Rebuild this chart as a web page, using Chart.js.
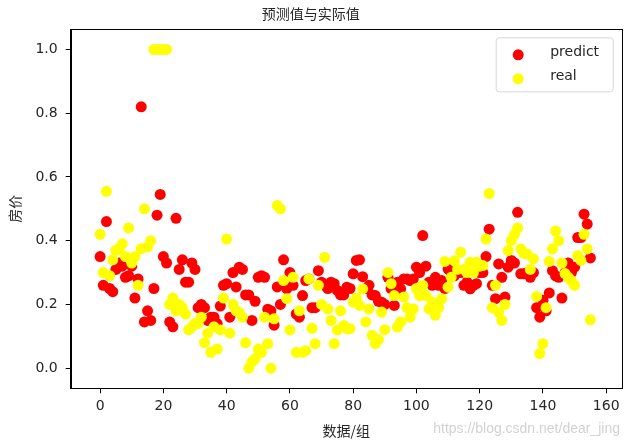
<!DOCTYPE html>
<html>
<head>
<meta charset="utf-8">
<script src="https://cdn.jsdelivr.net/npm/chart.js@4.4.1/dist/chart.umd.min.js"></script>
<style>
  body { margin: 0; background: #fff; }
</style>
</head>
<body>
<canvas id="scatter-chart" width="638" height="444"></canvas>
<script>
'use strict';

// values, index 0..155
const predict = [
  0.35, 0.26, 0.46, 0.25, 0.24, 0.31, 0.33, 0.32, 0.285, 0.29, 0.32, 0.22, 0.28, 0.82, 0.145, 0.18, 0.15, 0.25, 0.48, 0.545,
  0.35, 0.33, 0.145, 0.13, 0.47, 0.31, 0.34, 0.27, 0.27, 0.33, 0.31, 0.19, 0.20, 0.19, 0.15, 0.16, 0.16, 0.14, 0.195, 0.26,
  0.265, 0.16, 0.30, 0.255, 0.317, 0.31, 0.23, 0.23, 0.15, 0.21, 0.285, 0.29, 0.285, 0.185, 0.18, 0.135, 0.255, 0.20, 0.34, 0.25,
  0.30, 0.26, 0.17, 0.16, 0.228, 0.275, 0.28, 0.19, 0.19, 0.306, 0.27, 0.26, 0.25, 0.27, 0.265, 0.244, 0.23, 0.23, 0.254, 0.25,
  0.296, 0.338, 0.34, 0.287, 0.25, 0.26, 0.23, 0.228, 0.21, 0.207, 0.20, 0.285, 0.25, 0.197, 0.27, 0.249, 0.28, 0.28, 0.275, 0.28,
  0.317, 0.30, 0.416, 0.32, 0.27, 0.26, 0.285, 0.26, 0.275, 0.25, 0.311, 0.30, 0.29, 0.306, 0.30, 0.26, 0.27, 0.249, 0.26, 0.265,
  0.30, 0.30, 0.35, 0.436, 0.26, 0.218, 0.327, 0.285, 0.223, 0.317, 0.338, 0.33, 0.489, 0.296, 0.296, 0.30, 0.285, 0.30, 0.19, 0.16,
  0.213, 0.18, 0.236, 0.306, 0.29, 0.285, 0.22, 0.30, 0.33, 0.30, 0.317, 0.41, 0.41, 0.483, 0.452, 0.346
];
const real = [
  0.42, 0.30, 0.555, 0.29, 0.34, 0.37, 0.375, 0.39, 0.35, 0.44, 0.33, 0.35, 0.26, 0.375, 0.50, 0.38, 0.40, 1.0, 1.0, 1.0,
  1.0, 1.0, 0.20, 0.22, 0.18, 0.20, 0.19, 0.17, 0.12, 0.13, 0.14, 0.14, 0.16, 0.08, 0.11, 0.05, 0.13, 0.06, 0.12, 0.22,
  0.405, 0.11, 0.20, 0.18, 0.175, 0.16, 0.08, 0.0, 0.02, 0.03, 0.06, 0.05, 0.16, 0.077, 0.0, 0.155, 0.51, 0.50, 0.275, 0.218,
  0.12, 0.285, 0.05, 0.18, 0.05, 0.055, 0.28, 0.125, 0.077, 0.26, 0.20, 0.348, 0.186, 0.15, 0.077, 0.12, 0.18, 0.134, 0.124, 0.124,
  0.207, 0.22, 0.197, 0.249, 0.145, 0.186, 0.103, 0.077, 0.09, 0.176, 0.121, 0.30, 0.265, 0.228, 0.129, 0.145, 0.223, 0.19, 0.16, 0.186,
  0.25, 0.228, 0.26, 0.228, 0.186, 0.207, 0.166, 0.19, 0.218, 0.335, 0.254, 0.285, 0.337, 0.31, 0.364, 0.31, 0.30, 0.332, 0.30, 0.332,
  0.32, 0.322, 0.405, 0.548, 0.19, 0.26, 0.176, 0.15, 0.20, 0.369, 0.40, 0.42, 0.44, 0.374, 0.36, 0.358, 0.31, 0.343, 0.225, 0.046,
  0.077, 0.19, 0.335, 0.374, 0.43, 0.40, 0.33, 0.297, 0.285, 0.275, 0.26, 0.353, 0.338, 0.42, 0.374, 0.152
];
const xTicks = [0, 20, 40, 60, 80, 100, 120, 140, 160];
const yTicks = [0.0, 0.2, 0.4, 0.6, 0.8, 1.0];
const seriesNames = ['predict', 'real'];
const seriesColors = ['#ff0000', '#ffff00'];

const TEXT = '#262626';
const CJK = '"Noto Sans CJK SC", "DejaVu Sans", sans-serif';
const LATIN = '"DejaVu Sans", sans-serif';

const toPoints = arr => arr.map((v, i) => ({x: i, y: v}));

// frame on all four sides, matplotlib style
const framePlugin = {
  id: 'frame',
  afterDraw(chart) {
    const {ctx, chartArea: a} = chart;
    ctx.save();
    ctx.strokeStyle = '#000';
    ctx.lineWidth = 1;
    ctx.strokeRect(Math.round(a.left) + 0.5, Math.round(a.top) + 0.5,
      Math.round(a.right - a.left), Math.round(a.bottom - a.top));
    ctx.restore();
  }
};

// legend box in the upper right corner of the plot
const legendPlugin = {
  id: 'cornerLegend',
  afterDraw(chart) {
    const {ctx, chartArea: a} = chart;
    const w = 117, h = 54;
    const x0 = a.right - 8.5 - w, y0 = a.top + 8.5;
    ctx.save();
    ctx.beginPath();
    ctx.roundRect(x0, y0, w, h, 3);
    ctx.fillStyle = 'rgba(255,255,255,0.8)';
    ctx.fill();
    ctx.strokeStyle = '#d6d6d6';
    ctx.lineWidth = 1;
    ctx.stroke();
    chart.data.datasets.forEach((ds, i) => {
      const cy = y0 + 17 + i * 24;
      ctx.beginPath();
      ctx.arc(x0 + 22, cy, 5.5, 0, Math.PI * 2);
      ctx.fillStyle = ds.backgroundColor;
      ctx.fill();
      ctx.fillStyle = TEXT;
      ctx.font = '14px ' + LATIN;
      ctx.textBaseline = 'middle';
      ctx.fillText(ds.label, x0 + 54, cy - 2);
    });
    ctx.restore();
  }
};

const watermarkPlugin = {
  id: 'watermark',
  afterDraw(chart) {
    const ctx = chart.ctx;
    ctx.save();
    ctx.fillStyle = '#d2d2d2';
    ctx.font = '14px "Liberation Sans Narrow", "Liberation Sans", sans-serif';
    ctx.textAlign = 'right';
    ctx.textBaseline = 'middle';
    ctx.fillText('https://blog.csdn.net/dear_jing', 620, 429, 207);
    ctx.restore();
  }
};

const scatterChart = new Chart(document.querySelector('#scatter-chart'), {
  type: 'scatter',
  data: {
    datasets: [
      {
        label: seriesNames[0],
        data: toPoints(predict),
        backgroundColor: seriesColors[0],
        pointRadius: 5.5,
        pointBorderWidth: 0,
        order: 1
      },
      {
        label: seriesNames[1],
        data: toPoints(real),
        backgroundColor: seriesColors[1],
        pointRadius: 5.5,
        pointBorderWidth: 0,
        order: 0
      }
    ]
  },
  options: {
    responsive: false,
    animation: false,
    events: [],
    layout: {
      padding: {left: 0, right: 16.3, top: 0, bottom: 0}
    },
    plugins: {
      legend: {display: false},
      tooltip: {enabled: false},
      title: {
        display: true,
        text: '预测值与实际值',
        color: TEXT,
        font: {family: CJK, size: 14, weight: 'normal', lineHeight: 1.2},
        padding: {top: 5.5, bottom: 7}
      }
    },
    scales: {
      x: {
        type: 'linear',
        min: -9.3,
        max: 164.9,
        afterBuildTicks: scale => {
          scale.ticks = xTicks.map(v => ({value: v}));
        },
        afterFit: scale => {
          scale.height = 55.7;
        },
        grid: {
          display: true,
          drawOnChartArea: false,
          drawTicks: true,
          tickLength: 5,
          color: '#000'
        },
        border: {display: true, color: '#000'},
        ticks: {
          color: TEXT,
          font: {family: LATIN, size: 14},
          padding: 5,
          maxRotation: 0,
          callback: v => String(v)
        },
        title: {
          display: true,
          text: '数据/组',
          color: TEXT,
          font: {family: CJK, size: 14},
          padding: {top: 0, bottom: 5}
        }
      },
      y: {
        type: 'linear',
        min: -0.063,
        max: 1.063,
        afterBuildTicks: scale => {
          scale.ticks = yTicks.map(v => ({value: v}));
        },
        afterFit: scale => {
          scale.width = 70.7;
        },
        grid: {
          display: true,
          drawOnChartArea: false,
          drawTicks: true,
          tickLength: 5,
          color: '#000'
        },
        border: {display: true, color: '#000'},
        ticks: {
          color: TEXT,
          font: {family: LATIN, size: 14},
          padding: 8,
          callback: v => Number(v).toFixed(1)
        },
        title: {
          display: true,
          text: '房价',
          color: TEXT,
          font: {family: CJK, size: 14},
          padding: {top: 6, bottom: 0}
        }
      }
    }
  },
  plugins: [framePlugin, legendPlugin, watermarkPlugin]
});
</script>
</body>
</html>
